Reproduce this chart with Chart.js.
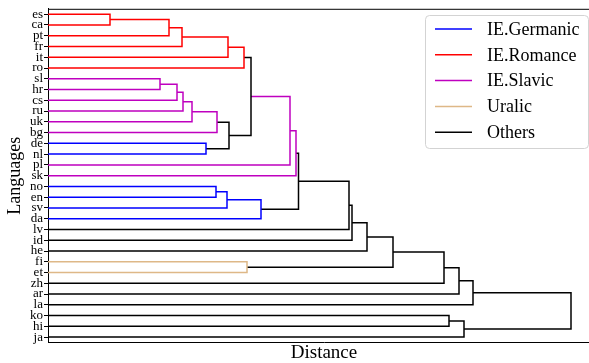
<!DOCTYPE html>
<html>
<head>
<meta charset="utf-8">
<script src="https://cdn.jsdelivr.net/npm/chart.js@4.4.0/dist/chart.umd.min.js"></script>
<style>
    html, body { margin: 0; padding: 0; background: #fff; overflow: hidden; }
    #wrap { width: 600px; height: 363px; position: relative; }
</style>
</head>
<body>
<div id="wrap"><canvas id="chart-dendro"></canvas></div>
<script>
// ========== DATOS ==========
const leafLabels = ['es','ca','pt','fr','it','ro','sl','hr','cs','ru','uk','bg','de','nl','pl','sk',
    'no','en','sv','da','lv','id','he','fi','et','zh','ar','la','ko','hi','ja'];

// each merge mK joins mergeLeft[K] and mergeRight[K] (leaf name or an earlier merge)
const mergeLeft  = ['es','m0','m1','m2','m3','sl','m5','m6','m7','m8','de','m9','m4','m12','m13',
    'no','m15','m16','m14','m18','m19','m20','fi','m21','m23','m24','m25','ko','m27','m26'];
const mergeRight = ['ca','pt','fr','it','ro','hr','cs','ru','uk','bg','nl','m10','m11','pl','sk',
    'en','sv','da','m17','lv','id','he','et','m22','zh','ar','la','hi','ja','m28'];
const mergeDist  = [0.62, 1.21, 1.34, 1.80, 1.96, 1.12, 1.29, 1.35, 1.44, 1.69, 1.58, 1.81, 2.03, 2.42, 2.48,
    1.68, 1.79, 2.13, 2.505, 3.01, 3.04, 3.19, 1.99, 3.45, 3.96, 4.11, 4.25, 4.01, 4.16, 5.23];
const mergeGroup = ['Romance','Romance','Romance','Romance','Romance','Slavic','Slavic','Slavic','Slavic','Slavic',
    'Germanic','Others','Others','Slavic','Slavic','Germanic','Germanic','Germanic','Others','Others','Others',
    'Others','Uralic','Others','Others','Others','Others','Others','Others','Others'];

const legendKeys   = ['Germanic','Romance','Slavic','Uralic','Others'];
const legendLabels = ['IE.Germanic','IE.Romance','IE.Slavic','Uralic','Others'];
const legendColors = ['#0000ff','#ff0000','#bf00bf','#deb887','#000000'];

// ========== NODOS ==========
const nodeY = {};
const nodeX = {};
leafLabels.forEach((l, i) => { nodeY[l] = i; nodeX[l] = 0; });

const datasets = [];
mergeDist.forEach((d, k) => {
    const a = mergeLeft[k], b = mergeRight[k];
    const name = 'm' + k;
    nodeY[name] = (nodeY[a] + nodeY[b]) / 2;
    nodeX[name] = d;
    datasets.push({
        data: [
            { x: nodeX[a], y: nodeY[a] },
            { x: d, y: nodeY[a] },
            { x: d, y: nodeY[b] },
            { x: nodeX[b], y: nodeY[b] }
        ],
        showLine: true,
        borderColor: legendColors[legendKeys.indexOf(mergeGroup[k])],
        borderWidth: 1.5,
        pointRadius: 0,
        fill: false,
        tension: 0
    });
});

// ========== PLUGINS ==========
const framePlugin = {
    id: 'frame',
    afterDraw(chart) {
        const { ctx, chartArea } = chart;
        ctx.save();
        ctx.strokeStyle = '#000';
        ctx.lineWidth = 1;
        ctx.beginPath();
        ctx.moveTo(chartArea.left, chartArea.top + 0.5);
        ctx.lineTo(chartArea.right, chartArea.top + 0.5);
        ctx.stroke();

        // leyenda
        const bx = 425.5, by = 15.5, bw = 163, bh = 133;
        ctx.fillStyle = 'rgba(255,255,255,0.8)';
        ctx.strokeStyle = '#d3d3d3';
        ctx.beginPath();
        ctx.roundRect(bx, by, bw, bh, 4);
        ctx.fill();
        ctx.stroke();
        ctx.font = '18px "Liberation Serif"';
        ctx.textBaseline = 'middle';
        legendLabels.forEach((lab, i) => {
            const y = 29 + i * 25.8;
            ctx.strokeStyle = legendColors[i];
            ctx.lineWidth = 1.5;
            ctx.beginPath();
            ctx.moveTo(435, y);
            ctx.lineTo(472, y);
            ctx.stroke();
            ctx.fillStyle = '#000';
            ctx.fillText(lab, 487, y + 1);
        });
        ctx.restore();
    }
};

// ========== GRAFICO ==========
const ctx = document.getElementById('chart-dendro').getContext('2d');
new Chart(ctx, {
    type: 'scatter',
    data: { datasets },
    options: {
        responsive: true,
        maintainAspectRatio: false,
        devicePixelRatio: 1,
        animation: false,
        events: [],
        layout: { padding: { top: 5.5, left: 0, right: 0, bottom: 0 } },
        plugins: { legend: { display: false }, tooltip: { enabled: false } },
        scales: {
            x: {
                type: 'linear',
                min: 0,
                max: 5.52,
                grid: { display: false },
                border: { display: true, color: '#000', width: 1 },
                ticks: { display: false },
                title: {
                    display: true, text: 'Distance', color: '#000',
                    font: { family: 'Liberation Serif', size: 19, lineHeight: 1 },
                    padding: 0
                },
                afterFit: s => { s.height = 20.5; }
            },
            y: {
                type: 'linear',
                min: -0.5,
                max: leafLabels.length - 0.5,
                reverse: true,
                afterBuildTicks: s => { s.ticks = leafLabels.map((_, i) => ({ value: i })); },
                ticks: {
                    autoSkip: false,
                    padding: 1,
                    color: '#000',
                    font: { family: 'Liberation Serif', size: 13 },
                    callback: v => leafLabels[v]
                },
                grid: { drawOnChartArea: false, drawTicks: true, tickLength: 4, color: '#000', lineWidth: 1 },
                border: { display: true, color: '#000', width: 1 },
                title: {
                    display: true, text: 'Languages', color: '#000',
                    font: { family: 'Liberation Serif', size: 18, lineHeight: 1 },
                    padding: { top: 6, bottom: 0 }
                },
                afterFit: s => { s.width = 48; }
            }
        }
    },
    plugins: [framePlugin]
});
</script>
</body>
</html>
